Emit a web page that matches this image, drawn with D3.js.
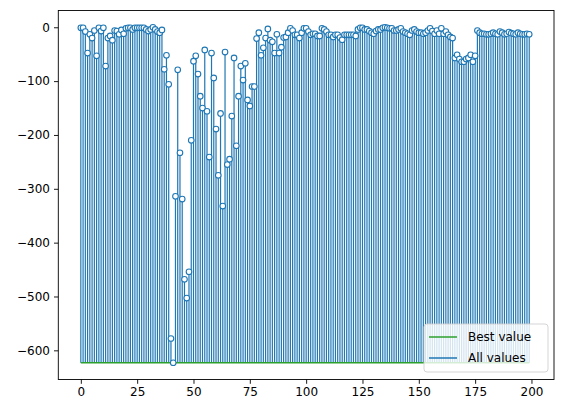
<!DOCTYPE html>
<html>
<head>
<meta charset="utf-8">
<script src="https://cdn.jsdelivr.net/npm/d3@7"></script>
<style>
  body { margin: 0; background: #fff; }
  svg text { font-family: "DejaVu Sans", sans-serif; }
</style>
</head>
<body>
<div id="chart"></div>
<script>
// values, one per iteration
const allValues = [
  -1, -1, -8, -48, -13, -20, -6, -53, -1, -7,
  -1, -72, -20, -16, -24, -6, -7, -13, -5, -12,
  -2, -1, -1, -4, -1, -1, -1, -1, -1, -4,
  -7, -4, 0, -4, -8, -10, -5, -78, -52, -106,
  -578, -623, -314, -79, -233, -319, -468, -503, -454, -210,
  -63, -53, -87, -128, -150, -42, -156, -241, -48, -94,
  -189, -275, -160, -332, -46, -255, -245, -165, -57, -220,
  -128, -72, -98, -67, -135, -146, -110, -110, -21, -10,
  -52, -38, -20, -3, -24, -27, -48, -13, -48, -37,
  -19, -18, -10, -2, -6, -14, -14, -20, -10, -2,
  -2, -8, -14, -12, -12, -16, -16, -2, -4, -8,
  -14, -14, -18, -14, -14, -19, -23, -14, -14, -14,
  -14, -14, -16, -4, -1, -1, -4, -4, -7, -10,
  -12, -7, -4, -4, -1, 0, -1, -2, -2, -6,
  -6, -4, -2, -8, -10, -12, -14, -6, -4, -8,
  -10, -10, -12, -10, -6, -2, -7, -12, -6, -12,
  -2, -12, -8, -14, -18, -20, -57, -51, -59, -64,
  -64, -59, -57, -51, -64, -53, -6, -10, -12, -12,
  -13, -13, -12, -10, -12, -13, -8, -10, -13, -12,
  -9, -11, -12, -13, -10, -12, -13, -13, -12, -13
];
const bestValue = -623;
const bestRange = [0, 199];
const xTicks = [0, 25, 50, 75, 100, 125, 150, 175, 200];
const yTicks = [0, -100, -200, -300, -400, -500, -600];
const legendLabels = ["Best value", "All values"];

const width = 563;
const height = 413;
const margin = { top: 10.5, right: 9, bottom: 33.5, left: 58.3 };

const blue = "#1f77b4";
const green = "#2ca02c";

const svg = d3.select("#chart")
  .append("svg")
  .attr("width", width)
  .attr("height", height);

const x = d3.scaleLinear()
  .domain([-10, 210])
  .range([margin.left, width - margin.right]);

const yMin = d3.min(allValues), yMax = d3.max(allValues);
const pad = (yMax - yMin) * 0.05;
const y = d3.scaleLinear()
  .domain([yMin - pad, yMax + pad])
  .range([height - margin.bottom, margin.top]);

const plot = svg.append("g");

// stems
plot.append("g")
  .attr("stroke", blue)
  .attr("stroke-width", 1.2)
  .selectAll("line")
  .data(allValues)
  .join("line")
  .attr("x1", (d, i) => x(i))
  .attr("x2", (d, i) => x(i))
  .attr("y1", y(bestValue))
  .attr("y2", d => y(d));

// best value line
plot.append("line")
  .attr("x1", x(bestRange[0]))
  .attr("x2", x(bestRange[1]))
  .attr("y1", y(bestValue))
  .attr("y2", y(bestValue))
  .attr("stroke", green)
  .attr("stroke-width", 1.5);

// markers
plot.append("g")
  .selectAll("circle")
  .data(allValues)
  .join("circle")
  .attr("cx", (d, i) => x(i))
  .attr("cy", d => y(d))
  .attr("r", 2.8)
  .attr("fill", "#fff")
  .attr("stroke", blue)
  .attr("stroke-width", 1.1);

// axes
function xAxis(g) {
  g.attr("transform", `translate(0,${height - margin.bottom})`)
    .call(d3.axisBottom(x).tickValues(xTicks).tickSize(4.3).tickPadding(4).tickFormat(d3.format("d")))
    .attr("font-size", "12px");
  g.select(".domain").remove();
}
function yAxis(g) {
  g.attr("transform", `translate(${margin.left},0)`)
    .call(d3.axisLeft(y).tickValues(yTicks).tickSize(4.3).tickPadding(4).tickFormat(d3.format("d")))
    .attr("font-size", "12px");
  g.select(".domain").remove();
}
svg.append("g").call(xAxis);
svg.append("g").call(yAxis);
svg.selectAll(".tick text").attr("fill", "#000");
svg.selectAll(".tick line").attr("stroke", "#000").attr("stroke-width", 0.9);

svg.append("rect")
  .attr("x", margin.left)
  .attr("y", margin.top)
  .attr("width", width - margin.right - margin.left)
  .attr("height", height - margin.bottom - margin.top)
  .attr("fill", "none")
  .attr("stroke", "#000")
  .attr("stroke-width", 0.9);

// legend
const legend = svg.append("g").attr("transform", "translate(424,324)");
legend.append("rect")
  .attr("width", 124)
  .attr("height", 48)
  .attr("rx", 3)
  .attr("fill", "rgba(255,255,255,0.8)")
  .attr("stroke", "#d0d0d0")
  .attr("stroke-width", 0.9);
const items = legend.selectAll("g.item")
  .data(legendLabels)
  .join("g")
  .attr("class", "item")
  .attr("transform", (d, i) => `translate(0,${13 + i * 21})`);
items.append("line")
  .attr("x1", 5)
  .attr("x2", 33)
  .attr("stroke", (d, i) => i === 0 ? green : blue)
  .attr("stroke-width", 1.5);
items.append("text")
  .attr("x", 44)
  .attr("dy", "0.35em")
  .attr("font-size", "12px")
  .attr("fill", "#000")
  .text(d => d);
</script>
</body>
</html>
